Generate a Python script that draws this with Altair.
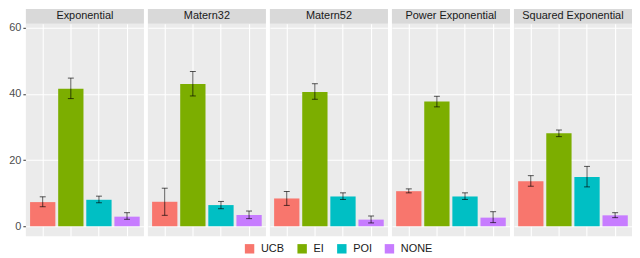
import altair as alt
import pandas as pd

kernels = ["Exponential", "Matern32", "Matern52", "Power Exponential", "Squared Exponential"]
acqs = ["UCB", "EI", "POI", "NONE"]
colors = ["#F8766D", "#7CAE00", "#00BFC4", "#C77CFF"]

# mean values per kernel, in acqs order
means = {
    "Exponential":         [7.3, 41.6, 8.0, 2.9],
    "Matern32":            [7.4, 43.0, 6.4, 3.4],
    "Matern52":            [8.4, 40.6, 9.0, 2.0],
    "Power Exponential":   [10.6, 37.7, 9.0, 2.6],
    "Squared Exponential": [13.6, 28.1, 14.9, 3.3],
}
lows = {
    "Exponential":         [5.9, 38.6, 7.1, 2.1],
    "Matern32":            [3.3, 39.4, 5.3, 2.3],
    "Matern52":            [6.3, 38.4, 8.1, 1.0],
    "Power Exponential":   [10.1, 36.1, 8.1, 1.1],
    "Squared Exponential": [12.1, 27.1, 11.9, 2.6],
}
highs = {
    "Exponential":         [8.9, 44.8, 9.1, 4.1],
    "Matern32":            [11.5, 46.8, 7.5, 4.6],
    "Matern52":            [10.5, 43.1, 10.1, 3.1],
    "Power Exponential":   [11.3, 39.3, 10.1, 4.4],
    "Squared Exponential": [15.3, 29.1, 18.1, 4.1],
}

rows = []
for k in kernels:
    for i, a in enumerate(acqs):
        rows.append({"kernel": k, "acq": a, "mean": means[k][i],
                     "lo": lows[k][i], "hi": highs[k][i]})
df = pd.DataFrame(rows)

FONT = "Liberation Sans"
W = 119
H = 214

xenc = alt.X("acq:N", sort=acqs,
             scale=alt.Scale(paddingInner=0.1, paddingOuter=0.15),
             axis=alt.Axis(labels=False, ticks=False, domain=False, title=None,
                           grid=True, bandPosition=0.5, gridColor="white",
                           gridWidth=1.1, gridOpacity=1))
yscale = alt.Scale(domain=[-3, 61.2], nice=False, zero=False)
yaxis = alt.Axis(values=[0, 10, 20, 30, 40, 50, 60], title=None, domain=False,
                 labelExpr="datum.value % 20 === 0 ? datum.label : ''",
                 gridColor="white",
                 gridWidth={"condition": {"test": "datum.value % 20 === 0", "value": 1.1}, "value": 0.5},
                 tickColor={"condition": {"test": "datum.value % 20 === 0", "value": "#333333"}, "value": "transparent"},
                 tickSize=3, labelPadding=2)

bars = alt.Chart().mark_bar().encode(
    x=xenc,
    y=alt.Y("mean:Q", scale=yscale, axis=yaxis),
    y2=alt.datum(0),
    color=alt.Color("acq:N", sort=acqs,
                    scale=alt.Scale(domain=acqs, range=colors),
                    legend=alt.Legend(title=None, orient="none", direction="horizontal",
                                      legendX=220, legendY=221,
                                      symbolType="square", symbolSize=90, symbolStrokeWidth=0,
                                      labelFont=FONT, labelFontSize=11, labelColor="#1A1A1A",
                                      columnPadding=12, labelOffset=6)),
)

rules = alt.Chart().mark_rule(color="#000000", opacity=0.65, strokeWidth=1).encode(
    x=alt.X("acq:N", sort=acqs),
    y=alt.Y("lo:Q"),
    y2="hi:Q",
)
tick_lo = alt.Chart().mark_tick(color="#000000", opacity=0.65, thickness=1, size=6).encode(
    x=alt.X("acq:N", sort=acqs), y=alt.Y("lo:Q"))
tick_hi = alt.Chart().mark_tick(color="#000000", opacity=0.65, thickness=1, size=6).encode(
    x=alt.X("acq:N", sort=acqs), y=alt.Y("hi:Q"))

strip = alt.Chart().mark_rect(color="#D9D9D9").encode(
    x=alt.value(0), x2=alt.value(W), y=alt.value(-15), y2=alt.value(0)
).transform_filter(alt.datum.acq == "UCB")

strip_text = alt.Chart().mark_text(font=FONT, fontSize=11, color="#1A1A1A",
                                   align="center", baseline="middle").encode(
    x=alt.value(W / 2), y=alt.value(-7.5), text="kernel:N"
).transform_filter(alt.datum.acq == "UCB")

layer = alt.layer(strip, strip_text, bars, rules, tick_lo, tick_hi, data=df).properties(
    width=W, height=H)

chart = layer.facet(
    column=alt.Column("kernel:N", sort=kernels, header=alt.Header(labels=False, title=None)),
    spacing=4,
).properties(padding=0).configure_view(
    fill="#EBEBEB", strokeWidth=0
).configure_axis(
    labelFont=FONT, labelFontSize=11, labelColor="#4D4D4D"
)

chart.save("out.html", embed_options={"renderer": "svg", "actions": False})
